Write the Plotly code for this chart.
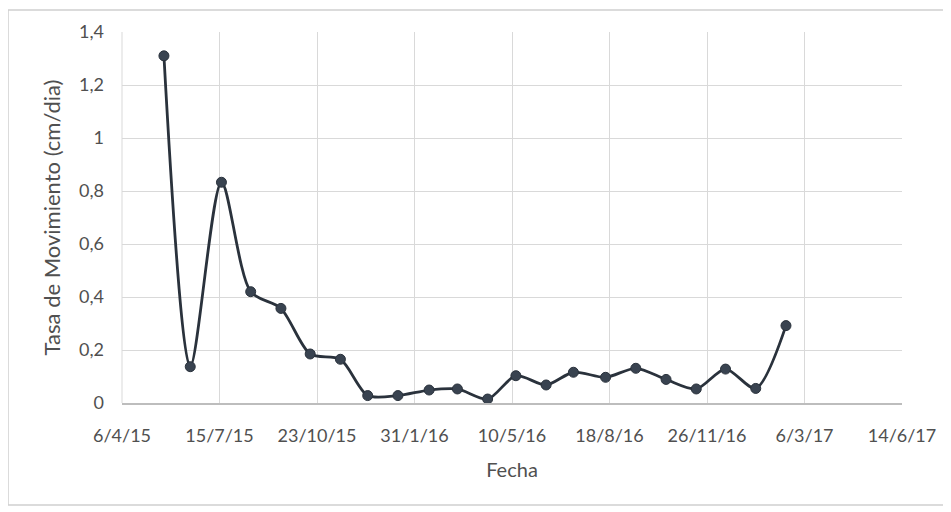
import plotly.graph_objects as go

# Data
fechas = ["2015-05-19", "2015-06-15", "2015-07-17", "2015-08-16", "2015-09-16",
          "2015-10-16", "2015-11-16", "2015-12-14", "2016-01-14", "2016-02-15",
          "2016-03-15", "2016-04-15", "2016-05-14", "2016-06-14", "2016-07-12",
          "2016-08-14", "2016-09-14", "2016-10-15", "2016-11-15", "2016-12-15",
          "2017-01-15", "2017-02-15"]
tasa = [1.31, 0.137, 0.833, 0.42, 0.357, 0.185, 0.165, 0.028, 0.028, 0.049,
        0.053, 0.015, 0.103, 0.068, 0.116, 0.097, 0.131, 0.089, 0.053, 0.128,
        0.055, 0.292]

tick_fechas = ["2015-04-06", "2015-07-15", "2015-10-23", "2016-01-31", "2016-05-10",
               "2016-08-18", "2016-11-26", "2017-03-06", "2017-06-14"]
tick_textos = ["6/4/15", "15/7/15", "23/10/15", "31/1/16", "10/5/16",
               "18/8/16", "26/11/16", "6/3/17", "14/6/17"]
y_ticks = [0, 0.2, 0.4, 0.6, 0.8, 1, 1.2, 1.4]
y_textos = ["0", "0,2", "0,4", "0,6", "0,8", "1", "1,2", "1,4"]

FONT = "Lato, Open Sans, sans-serif"
TXT = "#505050"
LINE = "#2a323c"

fig = go.Figure()
fig.add_trace(go.Scatter(
    x=fechas, y=tasa, mode="lines+markers",
    line=dict(color=LINE, width=2.8, shape="spline", smoothing=0.8),
    marker=dict(color="#394350", size=10, line=dict(color=LINE, width=1)),
    showlegend=False,
))

W, H = 943, 504
ml, mr, mt, mb = 114, 49, 24, 109
pw, ph = W - ml - mr, H - mt - mb

fig.update_layout(
    width=W, height=H,
    margin=dict(l=ml, r=mr, t=mt, b=mb),
    paper_bgcolor="white", plot_bgcolor="white",
    font=dict(family=FONT, size=18, color=TXT),
    separators=", ",
    xaxis=dict(
        type="date", range=[tick_fechas[0], tick_fechas[-1]],
        tickmode="array", tickvals=tick_fechas, ticktext=tick_textos,
        showgrid=True, gridcolor="#d9d9d9", gridwidth=1,
        showline=True, linecolor="#bdbdbd", linewidth=1.5,
        zeroline=False, ticks="", ticklabelstandoff=16,
        tickfont=dict(size=18, color=TXT),
        title=dict(text="Fecha", font=dict(size=20, color=TXT), standoff=18),
    ),
    yaxis=dict(
        range=[0, 1.4], tickmode="array", tickvals=y_ticks, ticktext=y_textos,
        showgrid=True, gridcolor="#d9d9d9", gridwidth=1,
        showline=False, zeroline=False, ticks="", ticklabelstandoff=17,
        tickfont=dict(size=18, color=TXT),
        title=dict(text="Tasa de Movimiento (cm/dia)", font=dict(size=22, color=TXT), standoff=12),
    ),
    shapes=[dict(
        type="rect", xref="paper", yref="paper",
        x0=(0 - ml) / pw, x1=(937 - ml) / pw,
        y0=(H - mb - 497) / ph, y1=(H - mb - 2) / ph,
        line=dict(color="#d0d0d0", width=1.5), fillcolor="rgba(0,0,0,0)", layer="below",
    ), dict(
        type="line", xref="paper", yref="paper", x0=0, x1=0, y0=0, y1=1,
        line=dict(color="#d9d9d9", width=1), layer="below",
    )],
)

fig.write_html("out.html")
